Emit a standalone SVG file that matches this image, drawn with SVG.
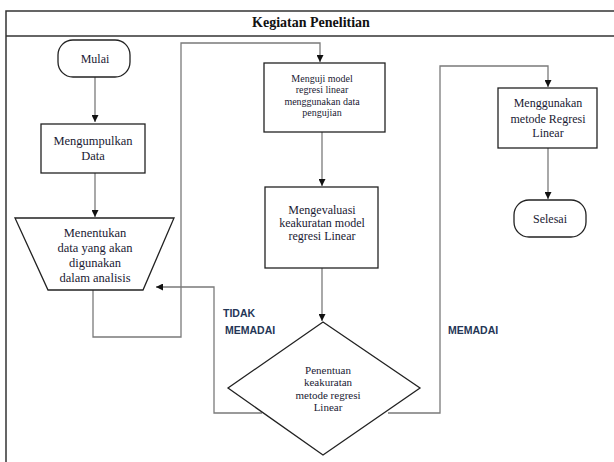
<svg xmlns="http://www.w3.org/2000/svg" width="614" height="462" viewBox="0 0 614 462">
<defs>
<marker id="ah" viewBox="0 0 10 10" refX="10" refY="5" markerWidth="7" markerHeight="7" markerUnits="userSpaceOnUse" orient="auto">
<path d="M0,0 L10,5 L0,10 z" fill="#111"/>
</marker>
<style>
.frame{fill:none;stroke:#333;stroke-width:1.5}
.node{fill:#fff;stroke:#222;stroke-width:1.3}
.conn{fill:none;stroke:#7a7a7a;stroke-width:1.3}
.t{font-family:"Liberation Serif","Times New Roman",serif;font-size:12px;fill:#1a1a33;text-anchor:middle}
.ts{font-size:10px}
.lbl{font-family:"Liberation Sans",Arial,sans-serif;font-size:10.5px;font-weight:bold;fill:#243656}
.title{font-family:"Liberation Serif","Times New Roman",serif;font-size:14px;font-weight:bold;fill:#111;text-anchor:middle}
</style>
</defs>
<rect width="614" height="462" fill="#fff"/>
<g id="frame">
<path class="frame" d="M614,11 H6 V462"/>
<path class="frame" d="M6,36 H614"/>
<text class="title" x="311" y="27">Kegiatan Penelitian</text>
</g>
<g id="connectors">
<path class="conn" d="M95,77 V122" marker-end="url(#ah)"/>
<path class="conn" d="M95,173 V217" marker-end="url(#ah)"/>
<path class="conn" d="M93,290 V337 H181 V43 H320 V62" marker-end="url(#ah)"/>
<path class="conn" d="M322,132 V186" marker-end="url(#ah)"/>
<path class="conn" d="M322,268 V321" marker-end="url(#ah)"/>
<path class="conn" d="M262,413 H214 V287 H156" marker-end="url(#ah)"/>
<path class="conn" d="M388,413 H440 V66 H548 V87" marker-end="url(#ah)"/>
<path class="conn" d="M548,148 V199" marker-end="url(#ah)"/>
</g>
<g id="mulai">
<rect class="node" x="58" y="40" width="72" height="37" rx="15"/>
<text class="t" x="95" y="63">Mulai</text>
</g>
<g id="mengumpulkan">
<rect class="node" x="41" y="124" width="104" height="49"/>
<text class="t" x="93" y="145" style="font-size:12.5px">Mengumpulkan</text>
<text class="t" x="93" y="160" style="font-size:12.5px">Data</text>
</g>
<g id="menentukan">
<path class="node" d="M15,218 H174 L143,290 H48 Z"/>
<text class="t" x="95" y="237" style="font-size:12.5px">Menentukan</text>
<text class="t" x="95" y="252" style="font-size:12.5px">data yang akan</text>
<text class="t" x="95" y="267" style="font-size:12.5px">digunakan</text>
<text class="t" x="95" y="282" style="font-size:12.5px">dalam analisis</text>
</g>
<g id="menguji">
<rect class="node" x="264" y="63" width="121" height="69"/>
<text class="t ts" x="322" y="82">Menguji model</text>
<text class="t ts" x="322" y="93">regresi linear</text>
<text class="t ts" x="322" y="105">menggunakan data</text>
<text class="t ts" x="322" y="116">pengujian</text>
</g>
<g id="mengevaluasi">
<rect class="node" x="265" y="187" width="113" height="81"/>
<text class="t" x="322" y="214">Mengevaluasi</text>
<text class="t" x="322" y="227">keakuratan model</text>
<text class="t" x="322" y="240">regresi Linear</text>
</g>
<g id="penentuan">
<path class="node" d="M323,322 L420,388 L323,455 L228,388 Z"/>
<text class="t" x="328" y="374" style="font-size:11px">Penentuan</text>
<text class="t" x="328" y="386" style="font-size:11px">keakuratan</text>
<text class="t" x="328" y="399" style="font-size:11px">metode regresi</text>
<text class="t" x="328" y="411" style="font-size:11px">Linear</text>
</g>
<g id="menggunakan">
<rect class="node" x="498" y="88" width="99" height="60"/>
<text class="t" x="548" y="107">Menggunakan</text>
<text class="t" x="548" y="123">metode Regresi</text>
<text class="t" x="548" y="137">Linear</text>
</g>
<g id="selesai">
<rect class="node" x="514" y="200" width="72" height="37" rx="15"/>
<text class="t" x="550" y="223">Selesai</text>
</g>
<g id="labels">
<text class="lbl" x="223" y="317">TIDAK</text>
<text class="lbl" x="225" y="334">MEMADAI</text>
<text class="lbl" x="448" y="334">MEMADAI</text>
</g>
</svg>
